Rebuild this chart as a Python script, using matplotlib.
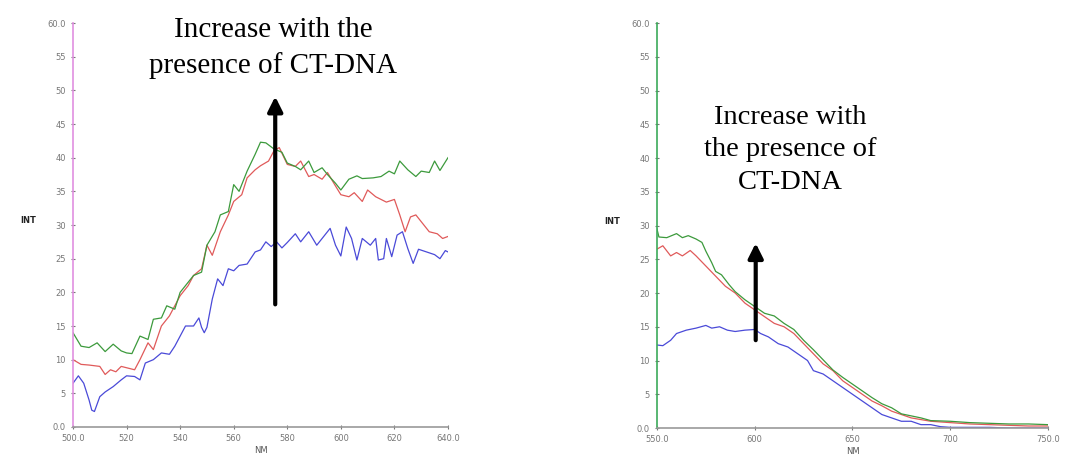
import matplotlib.pyplot as plt

# left panel (500-640 nm)
wl_a_green = [500, 503, 506, 509, 512, 515, 518, 520, 522, 525, 528, 530, 533, 535, 538, 540, 543, 545, 548, 550,
              553, 555, 558, 560, 562, 565, 568, 570, 572, 575, 578, 580, 583, 585, 588, 590, 593, 595, 598, 600,
              603, 606, 608, 612, 615, 618, 620, 622, 625, 628, 630, 633, 635, 637, 640]
int_a_green = [14, 12, 11.8, 12.5, 11.2, 12.3, 11.3, 11, 10.9, 13.5, 13, 16, 16.2, 18, 17.5, 20, 21.5, 22.5, 23, 27,
               29, 31.5, 32, 36, 35, 38, 40.5, 42.3, 42.2, 41.3, 40.8, 39.2, 38.7, 38.2, 39.5, 37.8, 38.5, 37.5, 36.2, 35.2,
               36.8, 37.3, 36.9, 37, 37.2, 38, 37.6, 39.5, 38.2, 37.2, 38, 37.8, 39.5, 38.1, 40]

wl_a_red = [500, 503, 506, 510, 512, 514, 516, 518, 520, 523, 525, 528, 530, 533, 536, 538, 540, 543, 545, 548,
            550, 552, 555, 558, 560, 563, 565, 568, 570, 573, 575, 577, 580, 583, 585, 588, 590, 593, 595, 598,
            600, 603, 605, 608, 610, 613, 615, 617, 620, 622, 624, 626, 628, 630, 633, 636, 638, 640]
int_a_red = [10, 9.3, 9.2, 9, 7.8, 8.5, 8.2, 9, 8.8, 8.5, 10, 12.5, 11.5, 15, 16.5, 18, 19.5, 21, 22.5, 23.5,
             27, 25.5, 29, 31.5, 33.5, 34.5, 37, 38.2, 38.8, 39.5, 41, 41.5, 39, 38.7, 39.5, 37.2, 37.5, 36.8, 37.8, 35.8,
             34.5, 34.2, 34.8, 33.5, 35.2, 34.2, 33.8, 33.4, 33.8, 31.5, 29, 31.2, 31.5, 30.5, 29, 28.7, 28, 28.3]

wl_a_blue = [500, 502, 504, 506, 507, 508, 510, 512, 515, 518, 520, 523, 525, 527, 530, 533, 536, 538, 540, 542,
             545, 547, 548, 549, 550, 552, 554, 556, 558, 560, 562, 565, 568, 570, 572, 574, 576, 578, 580, 583,
             585, 588, 591, 593, 596, 598, 600, 602, 604, 606, 608, 611, 613, 614, 616, 617, 619, 621, 623, 625,
             627, 629, 632, 635, 637, 639, 640]
int_a_blue = [6.5, 7.6, 6.5, 4, 2.5, 2.3, 4.5, 5.2, 6, 7, 7.6, 7.5, 7, 9.5, 10, 11, 10.8, 12, 13.5, 15,
              15, 16.2, 14.8, 14, 14.8, 19, 22, 21, 23.5, 23.2, 24, 24.2, 26, 26.3, 27.5, 26.8, 27.5, 26.6, 27.4, 28.7,
              27.5, 29, 27, 28, 29.5, 27, 25.4, 29.7, 28, 24.8, 28, 27, 28, 24.8, 25, 28, 25.3, 28.5, 29, 26.5,
              24.3, 26.4, 26, 25.6, 25, 26.2, 26]

# right panel (550-750 nm)
wl_b_green = [550, 551, 555, 560, 563, 566, 570, 573, 575, 578, 580, 583, 587, 590, 595, 600, 605, 610, 615, 620,
              625, 630, 635, 640, 645, 650, 655, 660, 665, 670, 675, 680, 685, 690, 700, 710, 720, 730, 740, 750]
int_b_green = [29.5, 28.3, 28.2, 28.8, 28.2, 28.5, 28, 27.5, 26.2, 24.5, 23.2, 22.7, 21.2, 20.2, 19, 18, 17, 16.6, 15.5, 14.6,
               13, 11.6, 10.1, 8.6, 7.5, 6.5, 5.5, 4.5, 3.6, 3, 2.1, 1.8, 1.5, 1.1, 1, 0.8, 0.7, 0.6, 0.6, 0.5]

wl_b_red = [550, 553, 557, 560, 563, 567, 570, 575, 580, 585, 590, 595, 600, 605, 610, 615, 620, 625, 630, 635,
            640, 645, 650, 655, 660, 665, 670, 675, 680, 690, 700, 710, 720, 730, 740, 750]
int_b_red = [26.5, 27, 25.5, 26, 25.5, 26.3, 25.5, 24, 22.5, 21, 20, 18.5, 17.5, 16.5, 15.5, 15, 14, 12.5, 11, 9.5,
             8.5, 7, 6, 5, 4, 3.3, 2.5, 2, 1.5, 1, 0.8, 0.6, 0.5, 0.4, 0.3, 0.3]

wl_b_blue = [550, 553, 557, 560, 565, 570, 575, 578, 582, 586, 590, 595, 600, 603, 607, 612, 617, 622, 627, 630,
             635, 640, 645, 650, 655, 660, 665, 670, 675, 680, 685, 690, 695, 700, 710, 720, 730, 750]
int_b_blue = [12.3, 12.2, 13, 14, 14.5, 14.8, 15.2, 14.8, 15, 14.5, 14.3, 14.5, 14.6, 14, 13.5, 12.5, 12, 11, 10, 8.5,
              8, 7, 6, 5, 4, 3, 2, 1.5, 1, 1, 0.5, 0.5, 0.2, 0.1, 0.1, 0.1, 0, 0]

green = '#3c9a3c'
red = '#e05a5a'
blue = '#4a4ad8'
tick_grey = '#777777'

fig = plt.figure(figsize=(10.8, 4.66), dpi=100)
ax1 = fig.add_axes([0.0676, 0.0837, 0.3472, 0.8669])
ax2 = fig.add_axes([0.6083, 0.0815, 0.3621, 0.8691])


def style(ax, spine_color, xticks, xlabels):
    ax.set_ylim(0, 60)
    ax.set_yticks(range(0, 61, 5))
    ax.set_yticklabels(['0.0'] + [str(v) for v in range(5, 60, 5)] + ['60.0'])
    ax.set_xticks(xticks)
    ax.set_xticklabels(xlabels)
    ax.set_xlim(xticks[0], xticks[-1])
    for s in ['top', 'right']:
        ax.spines[s].set_visible(False)
    ax.spines['left'].set_color(spine_color)
    ax.spines['left'].set_linewidth(1.2)
    ax.spines['bottom'].set_color('#999999')
    ax.spines['bottom'].set_linewidth(1.2)
    ax.tick_params(axis='both', labelsize=6, colors=tick_grey, length=3, width=0.8, direction='inout')
    ax.set_xlabel('NM', fontsize=6, color='#555555', labelpad=2)
    ax.set_ylabel('INT', fontsize=6, color='#222222', fontweight='bold', rotation=0, labelpad=14)


ax1.plot(wl_a_blue, int_a_blue, color=blue, lw=0.9)
ax1.plot(wl_a_red, int_a_red, color=red, lw=0.9)
ax1.plot(wl_a_green, int_a_green, color=green, lw=0.9)
style(ax1, '#e090e0', [500, 520, 540, 560, 580, 600, 620, 640],
      ['500.0', '520', '540', '560', '580', '600', '620', '640.0'])
ax1.annotate('', xy=(575.5, 49.5), xytext=(575.5, 17.8),
             arrowprops=dict(arrowstyle='-|>', color='black', lw=3, mutation_scale=22))
ax1.text(574.7, 56.3, 'Increase with the\npresence of CT-DNA', ha='center', va='center',
         fontsize=21, family='Liberation Serif', linespacing=1.4)

ax2.plot(wl_b_blue, int_b_blue, color=blue, lw=0.9)
ax2.plot(wl_b_red, int_b_red, color=red, lw=0.9)
ax2.plot(wl_b_green, int_b_green, color=green, lw=0.9)
style(ax2, '#3caa5a', [550, 600, 650, 700, 750], ['550.0', '600', '650', '700', '750.0'])
ax2.annotate('', xy=(600.5, 27.8), xytext=(600.5, 12.6),
             arrowprops=dict(arrowstyle='-|>', color='black', lw=3, mutation_scale=22))
ax2.text(618, 41.2, 'Increase with\nthe presence of\nCT-DNA', ha='center', va='center',
         fontsize=20.5, family='Liberation Serif', linespacing=1.4)

fig.savefig('out.png', dpi=100)
